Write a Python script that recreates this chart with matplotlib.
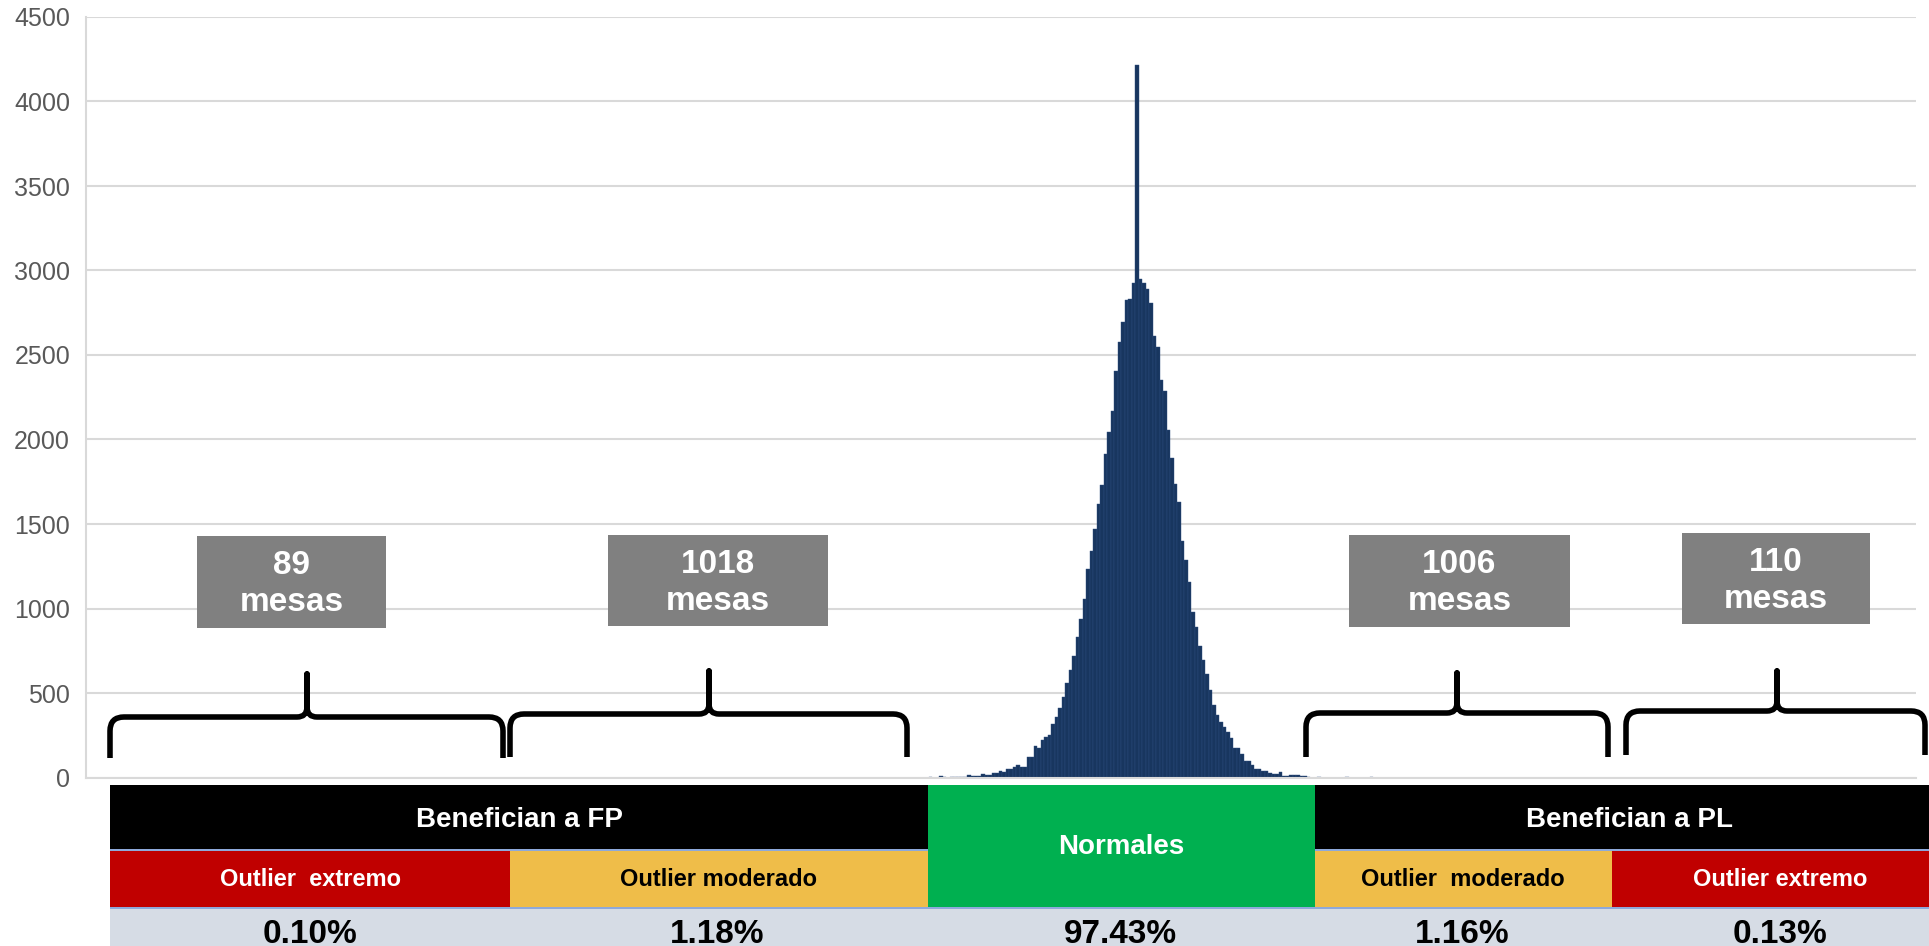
import matplotlib
matplotlib.use("Agg")
import matplotlib.pyplot as plt
from matplotlib.patches import Rectangle, PathPatch
from matplotlib.path import Path
from matplotlib.transforms import Affine2D

plt.rcParams['font.family'] = ['Liberation Sans', 'DejaVu Sans']

# ---------------- data ----------------
bin_index = list(range(-59, 68))
counts = [
    3, 0, 0, 8, 4, 0, 3, 4, 4, 5,
    5, 14, 7, 10, 9, 18, 16, 17, 25, 25,
    38, 33, 49, 50, 60, 72, 60, 65, 120, 120,
    185, 175, 220, 240, 250, 315, 360, 410, 478, 562,
    635, 719, 834, 938, 1059, 1231, 1339, 1471, 1617, 1732,
    1916, 2046, 2167, 2407, 2574, 2698, 2823, 2829, 2927,
    4215,
    2948, 2927, 2892, 2808, 2614, 2547, 2355, 2286, 2056, 1889,
    1738, 1628, 1398, 1289, 1158, 980, 892, 781, 698, 614,
    520, 429, 370, 330, 300, 271, 231, 176, 176, 142,
    97, 97, 73, 53, 53, 38, 38, 24, 18, 18,
    30, 10, 10, 14, 14, 14, 6, 6, 4, 0,
    0, 3, 0, 0, 0, 0, 0, 0, 0, 3,
    0, 0, 0, 0, 0, 0, 3,
]
ytick_values = [0, 500, 1000, 1500, 2000, 2500, 3000, 3500, 4000, 4500]
mesas_counts = ["89", "1018", "1006", "110"]
group_labels = ["Benefician a FP", "Normales", "Benefician a PL"]
class_labels = ["Outlier  extremo", "Outlier moderado", "Outlier  moderado", "Outlier extremo"]
shares = ["0.10%", "1.18%", "97.43%", "1.16%", "0.13%"]

# ---------------- layout (pixels, origin top-left) ----------------
W, H = 1929, 946
AX_L, AX_R, AX_T, AX_B = 86, 1916, 17, 777.5
PEAK_PX, PX_PER_BIN = 1137, 3.5

fig = plt.figure(figsize=(W / 100, H / 100), dpi=100)
fig.patch.set_facecolor("white")
ax = fig.add_axes([AX_L / W, 1 - AX_B / H, (AX_R - AX_L) / W, (AX_B - AX_T) / H])

ax.bar(bin_index, counts, width=0.9, color="#18365F", edgecolor="#2E4E80", linewidth=0.3)
ax.set_xlim((AX_L - PEAK_PX) / PX_PER_BIN, (AX_R - PEAK_PX) / PX_PER_BIN)
ax.set_ylim(0, 4500)
ax.set_yticks(ytick_values)
ax.set_yticklabels([str(v) for v in ytick_values])
ax.set_xticks([])
ax.tick_params(axis="y", length=0, pad=11.5, labelsize=18, labelcolor="#595959")
ax.grid(axis="y", color="#D9D9D9", linewidth=1.5)
ax.set_axisbelow(True)
for s in ["top", "right"]:
    ax.spines[s].set_visible(False)
for s in ["left", "bottom"]:
    ax.spines[s].set_color("#D9D9D9")
    ax.spines[s].set_linewidth(1.5)

T = Affine2D().scale(1 / W, -1 / H).translate(0, 1) + fig.transFigure


def rect(x0, y0, x1, y1, color):
    fig.add_artist(Rectangle((x0, y0), x1 - x0, y1 - y0, transform=T,
                             facecolor=color, edgecolor="none", zorder=3))


def text(x, y, s, size, color, **kw):
    fig.text(x, y, s, transform=T, ha="center", va="center", fontsize=size,
             color=color, fontweight="bold", zorder=5, **kw)


# gray boxes with counts
boxes = [(197, 536, 386, 628), (608, 535, 828, 626), (1349, 535, 1570, 627), (1682, 533, 1870, 624)]
for (x0, y0, x1, y1), n in zip(boxes, mesas_counts):
    rect(x0, y0, x1, y1, "#808080")
    text((x0 + x1) / 2, (y0 + y1) / 2 + 2, f"{n}\nmesas", 24, "white", linespacing=1.25)


# braces
def brace(x0, x1, xm, yb, yt, ye, r=14, rm=10):
    verts = [(x0, ye), (x0, yb + r), (x0, yb), (x0 + r, yb), (xm - rm, yb), (xm, yb), (xm, yb - rm), (xm, yt),
             (xm, yb - rm), (xm, yb), (xm + rm, yb), (x1 - r, yb), (x1, yb), (x1, yb + r), (x1, ye)]
    codes = [Path.MOVETO, Path.LINETO, Path.CURVE3, Path.CURVE3, Path.LINETO, Path.CURVE3, Path.CURVE3, Path.LINETO,
             Path.LINETO, Path.CURVE3, Path.CURVE3, Path.LINETO, Path.CURVE3, Path.CURVE3, Path.LINETO]
    fig.add_artist(PathPatch(Path(verts, codes), transform=T, fill=False, edgecolor="black",
                             linewidth=4.0, joinstyle="round", capstyle="butt", zorder=4))


brace(110, 503, 307, 717, 674, 758)
brace(510, 907, 709, 714, 671, 757)
brace(1306, 1608, 1457, 713, 673, 757)
brace(1626, 1925, 1777, 711, 671, 755)

# table
rect(110, 785, 928, 850, "black")
rect(1315, 785, 1929, 850, "black")
rect(928, 785, 1315, 908, "#00B050")
rect(110, 850, 510, 908, "#C00000")
rect(510, 850, 928, 908, "#EFBD49")
rect(1315, 850, 1612, 908, "#EFBD49")
rect(1612, 850, 1929, 908, "#C00000")
rect(110, 908, 1929, 946, "#D6DCE5")
rect(110, 849, 928, 851, "#8EA9DB")
rect(1315, 849, 1929, 851, "#8EA9DB")
rect(110, 907, 1929, 909, "#8EA9DB")

text(519, 820, group_labels[0], 20, "white")
text(1121, 847, group_labels[1], 20, "white")
text(1630, 820, group_labels[2], 20, "white")

text(310, 879, class_labels[0], 17, "white")
text(719, 879, class_labels[1], 17, "black")
text(1463, 879, class_labels[2], 17, "black")
text(1780, 879, class_labels[3], 17, "white")

for x, s in zip([310, 717, 1120, 1462, 1780], shares):
    text(x, 934, s, 24, "black")

fig.savefig("out.png", dpi=100)
